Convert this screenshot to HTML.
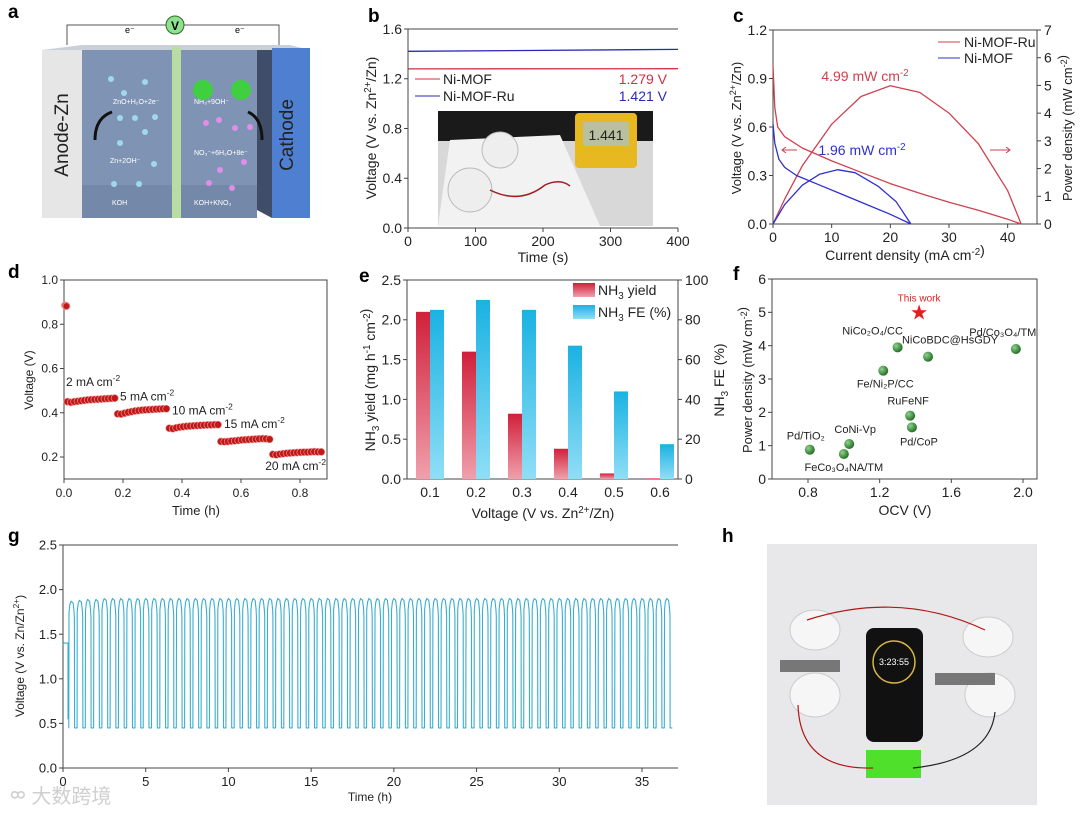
<!DOCTYPE html>
<html><head><meta charset="utf-8"><style>
html,body{margin:0;padding:0;background:#fff;}
svg{display:block;font-family:"Liberation Sans","Noto Sans CJK SC",sans-serif;}
</style></head><body>
<svg id="fig" width="1080" height="814" viewBox="0 0 1080 814" xmlns="http://www.w3.org/2000/svg">
<defs>
<linearGradient id="gRed" x1="0" y1="0" x2="0" y2="1"><stop offset="0" stop-color="#d0203a"/><stop offset="1" stop-color="#f0a0ac"/></linearGradient>
<linearGradient id="gBlue" x1="0" y1="0" x2="0" y2="1"><stop offset="0" stop-color="#1ab2e2"/><stop offset="1" stop-color="#90def6"/></linearGradient>
<radialGradient id="gBall" cx="0.35" cy="0.35" r="0.7"><stop offset="0" stop-color="#8fd28f"/><stop offset="1" stop-color="#1d6a1d"/></radialGradient>
</defs>
<!-- Panel a schematic -->
<g>
<polygon points="42,50 82,50 82,218 42,218" fill="#e6e6e6"/>
<polygon points="42,50 82,45 290,45 310,50" fill="#c9d0da"/>
<rect x="82" y="50" width="175" height="168" fill="#7f94b4"/>
<rect x="82" y="185" width="175" height="33" fill="#7489aa"/>
<rect x="172" y="47" width="9" height="171" fill="#b9dca3"/>
<polygon points="257,50 272,50 272,218 257,210" fill="#3f4d68"/>
<rect x="272" y="48" width="38" height="170" fill="#4f7fd0"/>
<text x="68" y="135" transform="rotate(-90 68 135)" text-anchor="middle" font-size="19" fill="#222">Anode-Zn</text>
<text x="293" y="135" transform="rotate(-90 293 135)" text-anchor="middle" font-size="19" fill="#222">Cathode</text>
<polyline points="67,45 67,25 279,25 279,45" fill="none" stroke="#555" stroke-width="1"/>
<circle cx="175" cy="25" r="9" fill="#8fe08f" stroke="#2a6a2a"/>
<text x="175" y="30" text-anchor="middle" font-size="12" font-weight="bold">V</text>
<text x="125" y="33" font-size="9">e⁻</text>
<text x="235" y="33" font-size="9">e⁻</text>
<g fill="#fff" font-size="7">
<text x="113" y="104">ZnO+H₂O+2e⁻</text>
<text x="110" y="163">Zn+2OH⁻</text>
<text x="112" y="205">KOH</text>
<text x="194" y="104">NH₃+9OH⁻</text>
<text x="194" y="155">NO₃⁻+6H₂O+8e⁻</text>
<text x="194" y="205">KOH+KNO₃</text>
</g>
<g fill="#9fd8ef"><circle cx="111" cy="79" r="3"/><circle cx="145" cy="82" r="3"/><circle cx="124" cy="93" r="3"/><circle cx="120" cy="118" r="3"/><circle cx="135" cy="118" r="3"/><circle cx="155" cy="117" r="3"/><circle cx="145" cy="132" r="3"/><circle cx="120" cy="143" r="3"/><circle cx="154" cy="164" r="3"/><circle cx="114" cy="184" r="3"/><circle cx="139" cy="184" r="3"/></g>
<g fill="#e08ee8"><circle cx="206" cy="123" r="3"/><circle cx="219" cy="120" r="3"/><circle cx="235" cy="128" r="3"/><circle cx="250" cy="127" r="3"/><circle cx="244" cy="162" r="3"/><circle cx="220" cy="170" r="3"/><circle cx="209" cy="183" r="3"/><circle cx="232" cy="188" r="3"/></g>
<circle cx="203" cy="90" r="10" fill="#3fcf3f"/>
<circle cx="241" cy="90" r="10" fill="#3fcf3f"/>
<path d="M95,140 Q95,118 112,112" fill="none" stroke="#111" stroke-width="3"/>
<path d="M262,140 Q262,118 248,112" fill="none" stroke="#111" stroke-width="3"/>
</g>
<!-- Panel b inset photo -->
<g>
<rect x="438" y="111" width="215" height="115" fill="#d8d8d8"/>
<rect x="438" y="111" width="215" height="30" fill="#1a1a1a"/>
<polygon points="450,140 560,135 600,226 438,226" fill="#f2f2f2"/>
<circle cx="470" cy="190" r="22" fill="#eeeeee" stroke="#bbb"/>
<circle cx="500" cy="150" r="18" fill="#eeeeee" stroke="#bbb"/>
<rect x="575" y="113" width="62" height="55" rx="4" fill="#e8b820"/>
<rect x="583" y="122" width="46" height="24" fill="#b8c0a0"/>
<text x="606" y="140" text-anchor="middle" font-size="14" fill="#222">1.441</text>
<path d="M490,190 Q520,205 545,185 Q560,178 570,186" fill="none" stroke="#a02020" stroke-width="1.5"/>
</g>
<!-- Panel h photo -->
<g>
<rect x="767" y="544" width="270" height="261" fill="#e8e8ea"/>
<ellipse cx="815" cy="630" rx="25" ry="20" fill="#f6f6f6" stroke="#ccc"/>
<ellipse cx="988" cy="637" rx="25" ry="20" fill="#f6f6f6" stroke="#ccc"/>
<ellipse cx="815" cy="695" rx="25" ry="22" fill="#f6f6f6" stroke="#ccc"/>
<ellipse cx="990" cy="695" rx="25" ry="22" fill="#f6f6f6" stroke="#ccc"/>
<rect x="780" y="660" width="60" height="12" fill="#777"/>
<rect x="935" y="673" width="60" height="12" fill="#777"/>
<rect x="866" y="628" width="57" height="114" rx="8" fill="#111"/>
<circle cx="894" cy="662" r="21" fill="none" stroke="#d8b640" stroke-width="1.5"/>
<text x="894" y="665" text-anchor="middle" font-size="9" fill="#fff">3:23:55</text>
<rect x="866" y="750" width="55" height="28" fill="#4ee02a"/>
<path d="M807,620 Q900,590 985,630" fill="none" stroke="#b01818" stroke-width="1.2"/>
<path d="M798,705 Q800,770 873,768" fill="none" stroke="#b01818" stroke-width="1.2"/>
<path d="M995,712 Q990,760 913,768" fill="none" stroke="#222" stroke-width="1.2"/>
</g>
<g id="charts"></g>
</svg>
<script>
// ---------- data ----------
const bSeries = ['Ni-MOF', 'Ni-MOF-Ru'];
const bVoltages = [1.279, 1.421];
const bTimes = [0, 400];
const bTicks = [0, 100, 200, 300, 400];
const bYTicks = [0.0, 0.4, 0.8, 1.2, 1.6];

const cRuCurrent = [0, 0.3, 0.8, 2, 5, 10, 15, 20, 25, 30, 35, 40, 42.3];
const cRuVoltage = [0.98, 0.72, 0.60, 0.54, 0.47, 0.39, 0.32, 0.25, 0.19, 0.135, 0.085, 0.03, 0];
const cRuPowerI = [0, 2, 5, 10, 15, 20, 25, 30, 35, 40, 42.3];
const cRuPower = [0, 0.9, 2.1, 3.6, 4.6, 4.99, 4.75, 4.0, 2.9, 1.2, 0];
const cNiCurrent = [0, 0.3, 1, 2, 4, 8, 12, 16, 20, 23.5];
const cNiVoltage = [0.62, 0.50, 0.40, 0.35, 0.30, 0.24, 0.18, 0.12, 0.06, 0];
const cNiPowerI = [0, 2, 5, 8, 11, 14, 18, 21, 23.5];
const cNiPower = [0, 0.7, 1.4, 1.8, 1.96, 1.85, 1.35, 0.8, 0];
const cXTicks = [0, 10, 20, 30, 40];
const cYTicks = [0.0, 0.3, 0.6, 0.9, 1.2];
const cY2Ticks = [0, 1, 2, 3, 4, 5, 6, 7];

const dSegStart = [0.012, 0.182, 0.357, 0.532, 0.708];
const dSegEnd = [0.172, 0.347, 0.522, 0.697, 0.872];
const dSegValues = [
 [0.450,0.447,0.450,0.452,0.454,0.456,0.458,0.459,0.460,0.461,0.462,0.463,0.464,0.465,0.466],
 [0.395,0.394,0.398,0.402,0.405,0.408,0.410,0.412,0.413,0.414,0.415,0.416,0.417,0.418,0.418],
 [0.330,0.328,0.332,0.335,0.337,0.339,0.340,0.341,0.342,0.343,0.344,0.345,0.345,0.346,0.346],
 [0.270,0.269,0.270,0.272,0.273,0.275,0.277,0.278,0.279,0.280,0.281,0.282,0.283,0.282,0.280],
 [0.212,0.210,0.213,0.215,0.217,0.218,0.219,0.220,0.221,0.222,0.222,0.223,0.224,0.223,0.223]];
const dOcvTime = [0.004, 0.008];
const dOcvValue = [0.885, 0.882];
const dLabels = ['2 mA cm', '5 mA cm', '10 mA cm', '15 mA cm', '20 mA cm'];
const dXTicks = [0.0, 0.2, 0.4, 0.6, 0.8];
const dYTicks = [0.2, 0.4, 0.6, 0.8, 1.0];

const eCats = ['0.1', '0.2', '0.3', '0.4', '0.5', '0.6'];
const eYield = [2.10, 1.60, 0.82, 0.38, 0.07, 0.01];
const eFE = [85, 90, 85, 67, 44, 17.5];
const eYTicks = [0.0, 0.5, 1.0, 1.5, 2.0, 2.5];
const eY2Ticks = [0, 20, 40, 60, 80, 100];

const fNames = ['Pd/TiO₂', 'FeCo₃O₄NA/TM', 'CoNi-Vp', 'Fe/Ni₂P/CC', 'NiCo₂O₄/CC', 'NiCoBDC@HsGDY', 'RuFeNF', 'Pd/CoP', 'Pd/Co₃O₄/TM'];
const fOCV = [0.81, 1.00, 1.03, 1.22, 1.30, 1.47, 1.37, 1.38, 1.96];
const fPower = [0.88, 0.75, 1.05, 3.25, 3.95, 3.67, 1.90, 1.55, 3.90];
const fThisWork = [1.42, 4.99];
const fXTicks = [0.8, 1.2, 1.6, 2.0];
const fYTicks = [0, 1, 2, 3, 4, 5, 6];

const gCycleHigh = [1.87,1.88,1.89,1.89,1.90,1.90,1.90,1.90,1.90,1.90,1.90,1.90,1.90,1.90,1.90,1.90,1.90,1.90,1.90,1.90,1.90,1.90,1.90,1.90,1.90,1.90,1.90,1.90,1.90,1.90,1.90,1.90,1.90,1.90,1.90,1.90,1.90,1.90,1.90,1.90,1.90,1.90,1.90,1.90,1.90,1.90,1.90,1.90,1.90,1.90,1.90,1.90,1.90,1.90,1.90,1.90,1.90,1.90,1.90,1.90,1.90,1.90,1.90,1.90,1.90,1.90,1.90,1.90,1.90,1.90,1.90,1.90,1.90];
const gCycleLow = [0.45,0.45,0.45,0.45,0.45,0.45,0.45,0.45,0.45,0.45,0.45,0.45,0.45,0.45,0.45,0.45,0.45,0.45,0.45,0.45,0.45,0.45,0.45,0.45,0.45,0.45,0.45,0.45,0.45,0.45,0.45,0.45,0.45,0.45,0.45,0.45,0.45,0.45,0.45,0.45,0.45,0.45,0.45,0.45,0.45,0.45,0.45,0.45,0.45,0.45,0.45,0.45,0.45,0.45,0.45,0.45,0.45,0.45,0.45,0.45,0.45,0.45,0.45,0.45,0.45,0.45,0.45,0.45,0.45,0.45,0.45,0.45,0.45];
const gCycleStart = 0.35;
const gCyclePeriod = 0.5;
const gInitTime = [0, 0.05, 0.3, 0.3, 0.35];
const gInitVolt = [1.38, 1.40, 1.40, 0.55, 0.60];
const gXTicks = [0, 5, 10, 15, 20, 25, 30, 35];
const gYTicks = [0.0, 0.5, 1.0, 1.5, 2.0, 2.5];

// ---------- helpers ----------
const NS = 'http://www.w3.org/2000/svg';
const root = document.getElementById('charts');
function mk(tag, attrs, parent) {
  const el = document.createElementNS(NS, tag);
  for (const k in attrs) el.setAttribute(k, attrs[k]);
  (parent || root).appendChild(el);
  return el;
}
function txt(x, y, s, size, anchor, fill, rot) {
  const t = mk('text', {x: x, y: y, 'font-size': size, 'text-anchor': anchor || 'middle', fill: fill || '#222'});
  if (rot) t.setAttribute('transform', 'rotate(' + rot + ' ' + x + ' ' + y + ')');
  t.innerHTML = s;
  return t;
}
function lin(d0, d1, r0, r1) { return v => r0 + (v - d0) * (r1 - r0) / (d1 - d0); }
function frame(x0, y0, x1, y1, name) {
  const r = mk('rect', {x: x0, y: y0, width: x1 - x0, height: y1 - y0, fill: 'none', stroke: '#444', 'stroke-width': 1});
  
  
}
function xTicks(vals, sx, y, fmt, size, name) {
  vals.forEach(v => {
    const l = mk('line', {x1: sx(v), x2: sx(v), y1: y, y2: y + 4, stroke: '#444'});
    
    
    const t = txt(sx(v), y + 18, fmt(v), size);
    
    
  });
}
function yTicks(vals, sy, x, fmt, size, name, right) {
  vals.forEach(v => {
    const l = mk('line', {x1: x, x2: right ? x + 4 : x - 4, y1: sy(v), y2: sy(v), stroke: '#444'});
    
    
    const t = txt(right ? x + 7 : x - 6, sy(v) + size * 0.35, fmt(v), size, right ? 'start' : 'end');
    
    
  });
}
function poly(xs, ys, sx, sy, color, w) {
  const pts = xs.map((x, i) => sx(x).toFixed(1) + ',' + sy(ys[i]).toFixed(1)).join(' ');
  return mk('polyline', {points: pts, fill: 'none', stroke: color, 'stroke-width': w || 1.3, 'stroke-linejoin': 'round'});
}
function panelLabel(x, y, s) {
  const t = txt(x, y, s, 19, 'start', '#000');
  t.setAttribute('font-weight', 'bold');
  
  
}
const f1 = v => v.toFixed(1);
const f0 = v => String(v);
const SUP2 = '<tspan dy="-5" font-size="70%">-2</tspan><tspan dy="5"></tspan>';
const ZN = 'Zn<tspan dy="-5" font-size="70%">2+</tspan><tspan dy="5">/Zn)</tspan>';

['a','b','c','d','e','f','g','h'].forEach((s, i) => {
  const pos = [[8,18],[368,22],[733,22],[8,278],[359,282],[733,280],[8,542],[722,542]][i];
  panelLabel(pos[0], pos[1], s);
});

// ---------- panel b ----------
{
  const sx = lin(0, 400, 408, 678), sy = lin(0, 1.6, 228, 29);
  const colors = ['#d03040', '#2a2ab8'];
  bSeries.forEach((n, i) => {
    const l = poly(bTimes, [bVoltages[i], bVoltages[i] + (i ? 0.015 : 0.002)], sx, sy, colors[i], 1.3);
    
    
  });
  mk('line', {x1: 408, x2: 678, y1: 29, y2: 29, stroke: '#444'});
  mk('line', {x1: 408, x2: 408, y1: 29, y2: 228, stroke: '#444'});
  mk('line', {x1: 408, x2: 678, y1: 228, y2: 228, stroke: '#444'});
  xTicks(bTicks, sx, 228, f0, 14, 'b-x');
  yTicks(bYTicks, sy, 408, f1, 14, 'b-y');
  bSeries.forEach((n, i) => {
    const y = 84 + i * 17;
    const l = mk('line', {x1: 415, x2: 440, y1: y - 5, y2: y - 5, stroke: colors[i]});
    
    
    const t = txt(443, y, n, 14, 'start');
    
    
    const v = txt(667, y, bVoltages[i].toFixed(3) + ' V', 14, 'end', colors[i]);
    
    
  });
  const xt = txt(543, 262, 'Time (s)', 14);
  
  
  const yt = txt(376, 128, 'Voltage (V vs. ' + ZN, 14, 'middle', '#222', -90);
  
  
}

// ---------- panel c ----------
{
  const sx = lin(0, 45, 773, 1037), sy = lin(0, 1.2, 224, 30), sy2 = lin(0, 7, 224, 30);
  frame(773, 30, 1037, 224, 'c-plot-frame');
  const red = '#d04050', blue = '#3030d0';
  let l = poly(cRuCurrent, cRuVoltage, sx, sy, red);
  
  
  l = poly(cRuPowerI, cRuPower, sx, sy2, red);
  
  
  l = poly(cNiCurrent, cNiVoltage, sx, sy, blue);
  
  
  l = poly(cNiPowerI, cNiPower, sx, sy2, blue);
  
  
  xTicks(cXTicks, sx, 224, f0, 14, 'c-x');
  yTicks(cYTicks, sy, 773, f1, 14, 'c-y');
  yTicks(cY2Ticks, sy2, 1037, f0, 14, 'c-y2', true);
  [['Ni-MOF-Ru', red, 47], ['Ni-MOF', blue, 63]].forEach(e => {
    const sw = mk('line', {x1: 938, x2: 960, y1: e[2] - 5, y2: e[2] - 5, stroke: e[1]});
    
    
    const t = txt(964, e[2], e[0], 14, 'start');
    
    
  });
  let a = txt(865, 81, '4.99 mW cm' + SUP2, 14, 'middle', red);
  
  
  a = txt(862, 155, '1.96 mW cm' + SUP2, 14, 'middle', blue);
  
  
  a = mk('path', {d: 'M797,150 L782,150 M786,147 L782,150 L786,153', stroke: red, fill: 'none'});
  
  
  a = mk('path', {d: 'M990,150 L1010,150 M1006,147 L1010,150 L1006,153', stroke: red, fill: 'none'});
  
  
  a = txt(905, 260, 'Current density (mA cm' + SUP2 + ')', 14);
  
  
  a = txt(741, 128, 'Voltage (V vs. ' + ZN, 13, 'middle', '#222', -90);
  
  
  a = txt(1072, 128, 'Power density (mW cm' + SUP2 + ')', 13, 'middle', '#222', -90);
  
  
}

// ---------- panel d ----------
{
  const sx = lin(0, 0.8, 64, 300), sy = lin(0.2, 1.0, 457, 280);
  frame(64, 280, 327, 479, 'd-plot-frame');
  dOcvTime.forEach((t, i) => {
    const c = mk('circle', {cx: sx(t), cy: sy(dOcvValue[i]), r: 3.5, fill: '#c01818', stroke: '#e88'});
    
    
  });
  dSegValues.forEach((vals, s) => {
    const t0 = dSegStart[s], t1 = dSegEnd[s];
    vals.forEach((v, i) => {
      const t = t0 + (t1 - t0) * i / (vals.length - 1);
      const c = mk('circle', {cx: sx(t), cy: sy(v), r: 3.6, fill: '#c01818', stroke: '#f0a0a0', 'stroke-width': 0.6});
      
      
    });
  });
  const lp = [[66, 0.52, 'start'], [120, 0.455, 'start'], [172, 0.392, 'start'], [224, 0.33, 'start'], [326, 0.142, 'end']];
  dLabels.forEach((s, i) => {
    const t = txt(lp[i][0], sy(lp[i][1]), s + SUP2, 12, lp[i][2]);
    
    
  });
  xTicks(dXTicks, sx, 479, f1, 12, 'd-x');
  yTicks(dYTicks, sy, 64, f1, 12, 'd-y');
  let a = txt(196, 515, 'Time (h)', 13);
  
  
  a = txt(33, 380, 'Voltage (V)', 12, 'middle', '#222', -90);
  
  
}

// ---------- panel e ----------
{
  const cx = i => 430 + i * 46, sy = lin(0, 2.5, 479, 280), sy2 = lin(0, 100, 479, 280);
  frame(407, 280, 678, 479, 'e-plot-frame');
  const bw = 14;
  eCats.forEach((c, i) => {
    const r = mk('rect', {x: cx(i) - bw, y: sy(eYield[i]), width: bw, height: 479 - sy(eYield[i]), fill: 'url(#gRed)'});
    
    
    const b = mk('rect', {x: cx(i), y: sy2(eFE[i]), width: bw, height: 479 - sy2(eFE[i]), fill: 'url(#gBlue)'});
    
    
    const t = txt(cx(i), 497, c, 14);
    
    
  });
  yTicks(eYTicks, sy, 407, f1, 14, 'e-y');
  yTicks(eY2Ticks, sy2, 678, f0, 14, 'e-y2', true);
  [['NH<tspan dy="4" font-size="70%">3</tspan><tspan dy="-4"> yield</tspan>', 'url(#gRed)', 295], ['NH<tspan dy="4" font-size="70%">3</tspan><tspan dy="-4"> FE (%)</tspan>', 'url(#gBlue)', 317]].forEach(e => {
    const r = mk('rect', {x: 573, y: e[2] - 12, width: 22, height: 14, fill: e[1]});
    
    
    const t = txt(598, e[2], e[0], 14, 'start');
    
    
  });
  let a = txt(543, 518, 'Voltage (V vs. ' + ZN, 14);
  
  
  a = txt(375, 380, 'NH<tspan dy="4" font-size="70%">3</tspan><tspan dy="-4"> yield (mg h</tspan><tspan dy="-5" font-size="70%">-1</tspan><tspan dy="5"> cm</tspan>' + SUP2 + ')', 14, 'middle', '#222', -90);
  
  
  a = txt(724, 380, 'NH<tspan dy="4" font-size="70%">3</tspan><tspan dy="-4"> FE (%)</tspan>', 14, 'middle', '#222', -90);
  
  
}

// ---------- panel f ----------
{
  const sx = lin(0.8, 2.0, 808, 1023), sy = lin(0, 6, 479, 279);
  frame(772, 279, 1037, 479, 'f-plot-frame');
  const labDx = [-4, 0, 6, 2, -25, 22, -2, 7, -13];
  const labDy = [-10, 17, -11, 17, -13, -13, -11, 18, -13];
  fNames.forEach((n, i) => {
    const c = mk('circle', {cx: sx(fOCV[i]), cy: sy(fPower[i]), r: 5, fill: 'url(#gBall)'});
    
    
    const t = txt(sx(fOCV[i]) + labDx[i], sy(fPower[i]) + labDy[i], n, 11);
    
    
  });
  const st = txt(sx(fThisWork[0]), sy(fThisWork[1]) + 6, '★', 17, 'middle', '#e02020');
  
  
  const tw = txt(sx(fThisWork[0]), sy(fThisWork[1]) - 11, 'This work', 10, 'middle', '#e02020');
  
  
  xTicks(fXTicks, sx, 479, f1, 14, 'f-x');
  yTicks(fYTicks, sy, 772, f0, 14, 'f-y');
  let a = txt(905, 515, 'OCV (V)', 14);
  
  
  a = txt(752, 380, 'Power density (mW cm' + SUP2 + ')', 13, 'middle', '#222', -90);
  
  
}

// ---------- panel g ----------
{
  const sx = lin(0, 35, 63, 642), sy = lin(0, 2.5, 768, 545);
  mk('line', {x1: 63, x2: 678, y1: 545, y2: 545, stroke: '#444'});
  mk('line', {x1: 63, x2: 63, y1: 545, y2: 768, stroke: '#444'});
  mk('line', {x1: 63, x2: 678, y1: 768, y2: 768, stroke: '#444'});
  const ts = gInitTime.slice(), vs = gInitVolt.slice();
  gCycleHigh.forEach((h, i) => {
    const t0 = gCycleStart + i * gCyclePeriod;
    const lo = gCycleLow[i];
    ts.push(t0, t0 + 0.01, t0 + 0.06, t0 + 0.14, t0 + 0.26, t0 + 0.32, t0 + 0.34, t0 + 0.35, t0 + 0.48);
    vs.push(lo, h - 0.13, h - 0.04, h, h - 0.02, h - 0.12, h - 0.2, lo, lo);
  });
  const l = poly(ts, vs, sx, sy, '#3aaed0', 1.1);
  
  
  xTicks(gXTicks, sx, 768, f0, 13, 'g-x');
  yTicks(gYTicks, sy, 63, f1, 13, 'g-y');
  let a = txt(370, 801, 'Time (h)', 12);
  
  
  a = txt(24, 656, 'Voltage (V vs. Zn/Zn<tspan dy="-5" font-size="70%">2+</tspan><tspan dy="5">)</tspan>', 12, 'middle', '#222', -90);
  
  
  a = txt(10, 803, 'ᢁ 大数跨境', 20, 'start', '#cfcfcf');
  
  
}
</script>
</body></html>
